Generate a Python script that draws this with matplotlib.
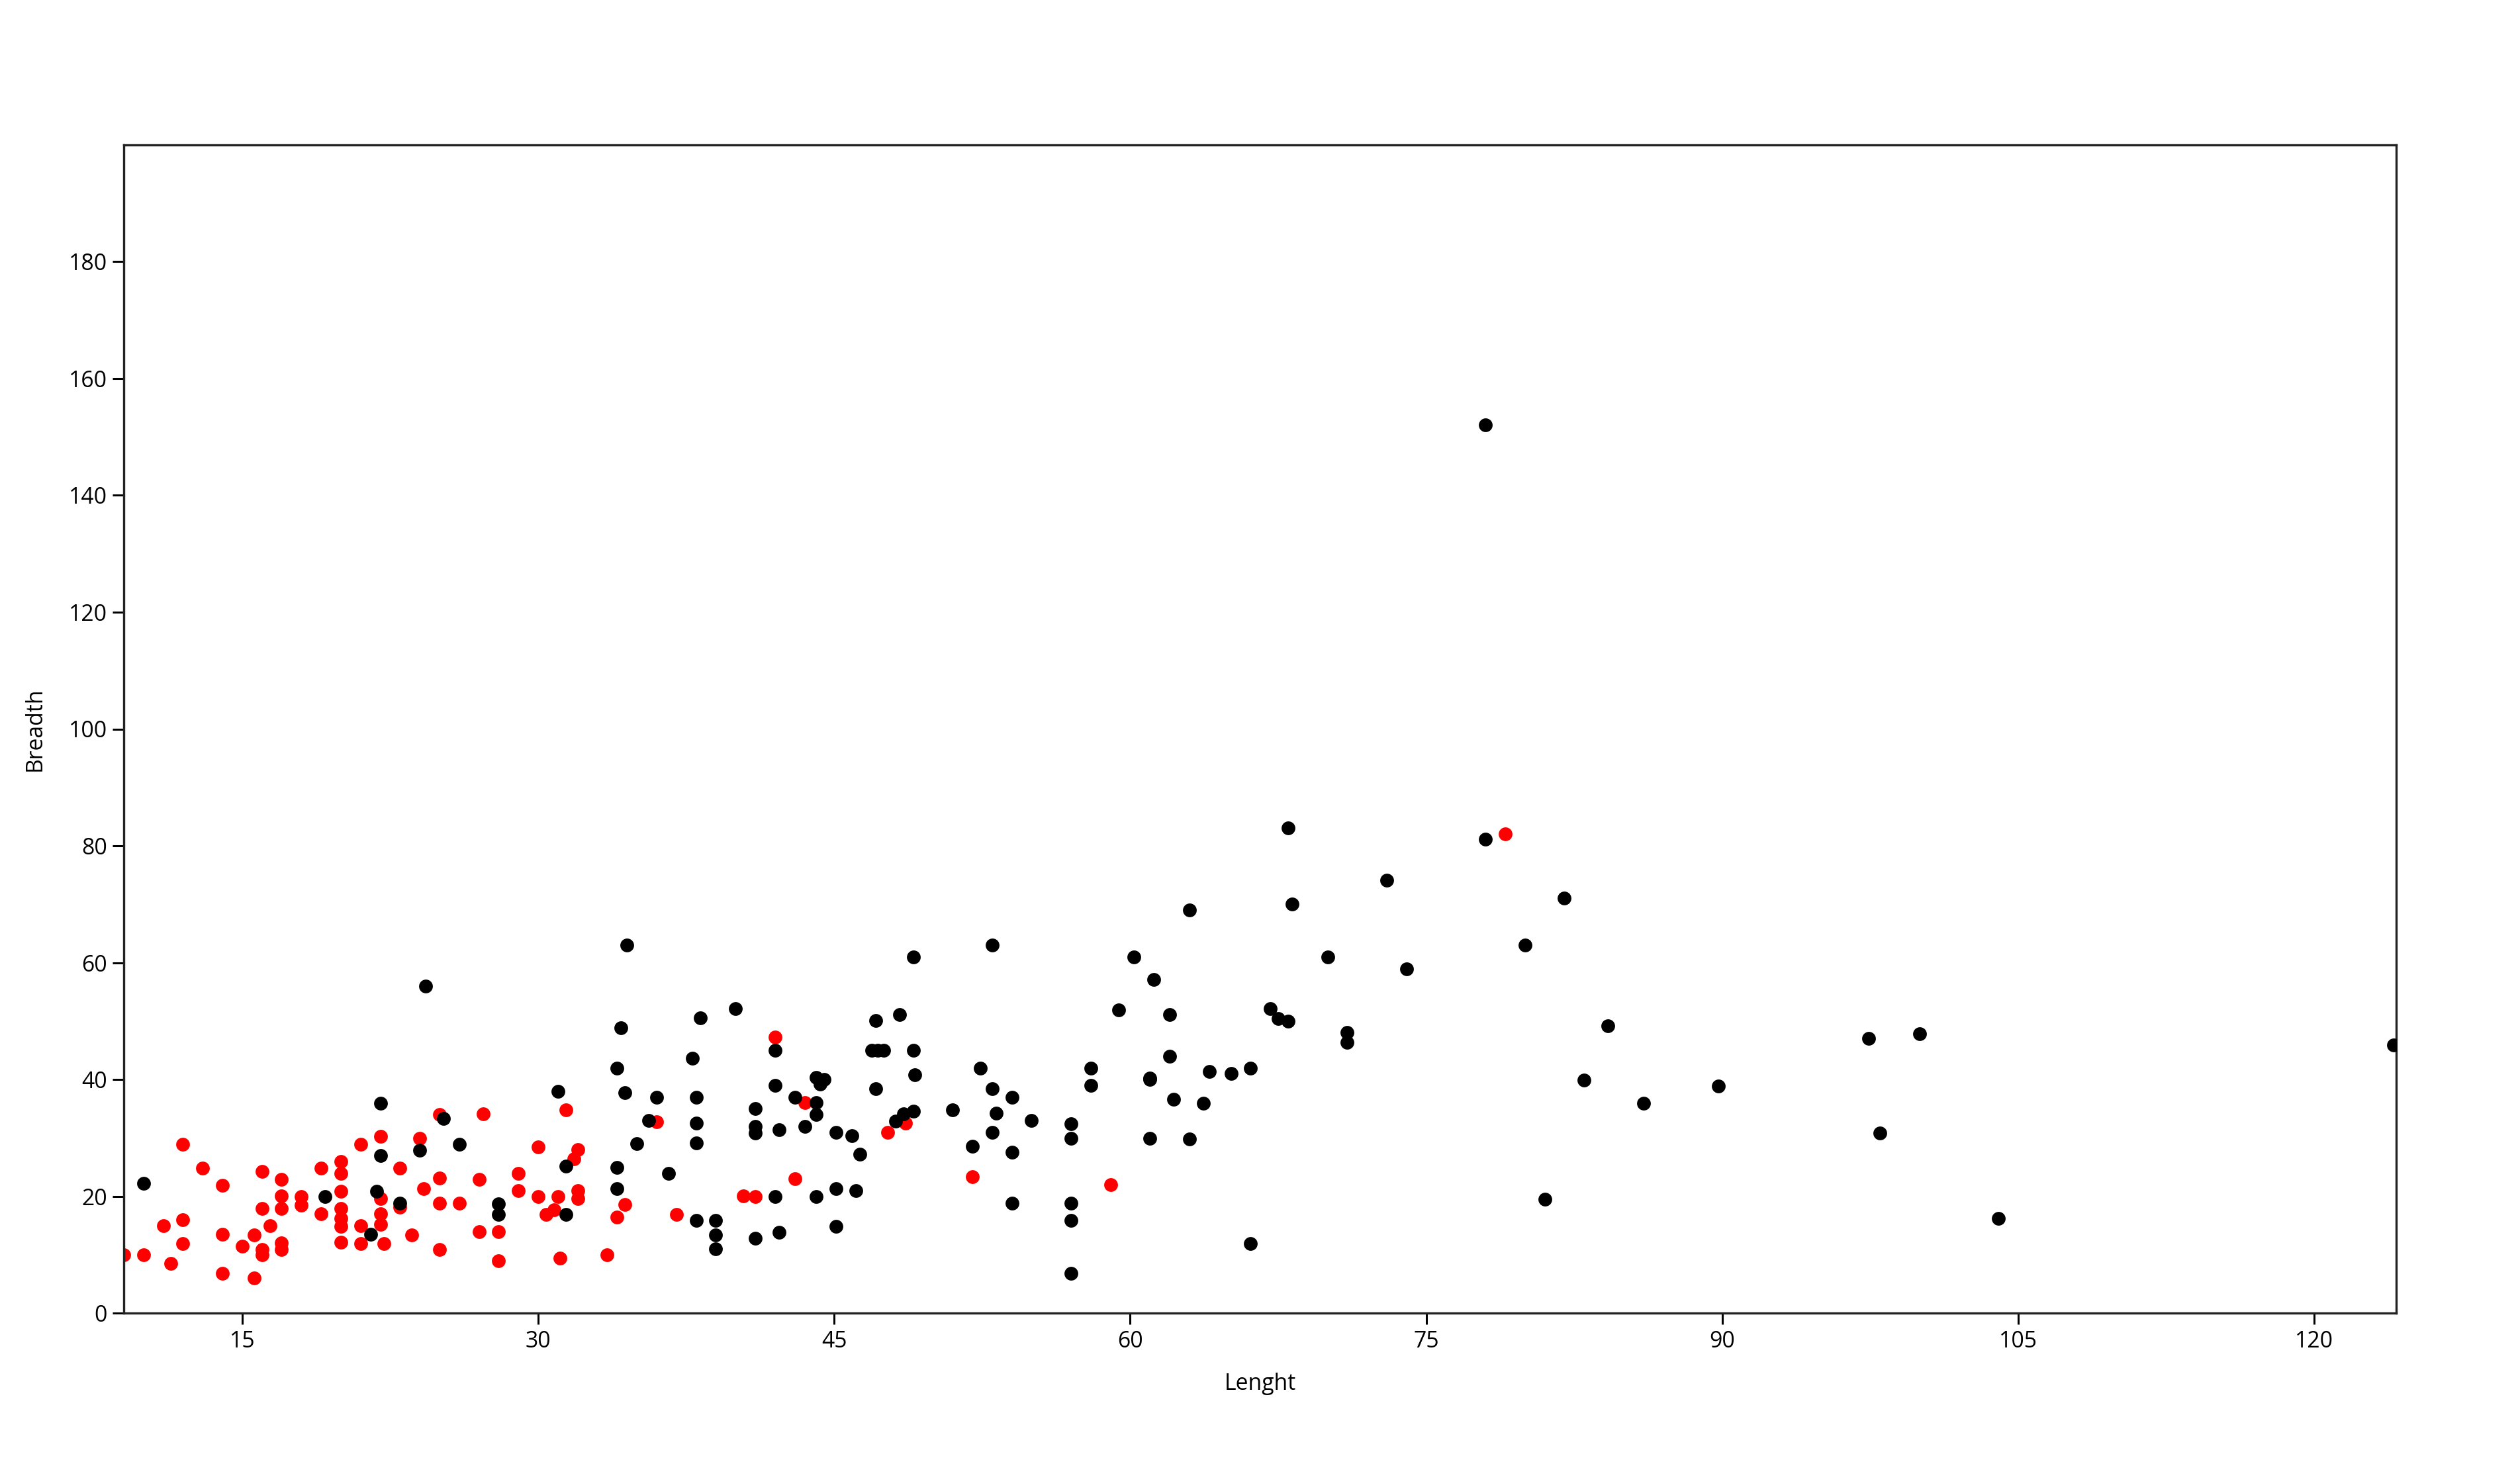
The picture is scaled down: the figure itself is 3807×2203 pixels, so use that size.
import numpy as np
import matplotlib
matplotlib.use("Agg")
import matplotlib.pyplot as plt

plt.rcParams['font.family'] = ['Open Sans', 'DejaVu Sans']

# red group (length, breadth)
red_length = [9.0, 10.0, 11.0, 11.4, 12.0, 12.0, 12.0, 13.0, 14.0, 14.0, 14.0, 15.0, 15.6, 15.6,
              16.0, 16.0, 16.0, 16.0, 16.4, 17.0, 17.0, 17.0, 17.0, 17.0, 18.0, 18.0, 19.0, 19.0,
              20.0, 20.0, 20.0, 20.0, 20.0, 20.0, 20.0, 21.0, 21.0, 21.0, 22.0, 22.0, 22.0, 22.0,
              22.2, 23.0, 23.0, 23.6, 24.0, 24.2, 25.0, 25.0, 25.0, 25.0, 26.0, 27.2, 27.0, 27.0,
              28.0, 28.0, 29.0, 29.0, 30.0, 30.0, 30.4, 30.8, 31.4, 31.0, 31.8, 32.0, 32.0, 32.0,
              31.1, 33.5, 34.4, 34.0, 36.0, 37.0, 40.4, 41.0, 42.0, 43.0, 43.5, 47.7, 48.6, 52.0,
              59.0, 79.0]
red_breadth = [10.0, 10.0, 15.0, 8.5, 28.9, 16.0, 12.0, 24.9, 21.9, 13.5, 6.9, 11.5, 13.4, 6.0,
               24.3, 17.9, 10.9, 10.0, 15.0, 22.9, 20.1, 17.9, 12.1, 10.9, 20.0, 18.5, 24.9, 17.0,
               26.0, 24.0, 20.9, 17.9, 16.2, 14.9, 12.2, 28.9, 15.0, 12.0, 30.3, 19.6, 17.0, 15.2,
               12.0, 24.9, 18.2, 13.4, 30.0, 21.3, 34.0, 23.1, 18.9, 10.9, 18.9, 34.1, 22.9, 14.0,
               14.0, 9.0, 24.0, 21.0, 28.5, 20.0, 16.9, 17.7, 34.8, 20.0, 26.4, 28.0, 21.0, 19.7,
               9.4, 10.0, 18.6, 16.5, 32.8, 16.9, 20.1, 20.0, 47.3, 23.0, 36.1, 31.0, 32.5, 23.4,
               22.0, 82.1]

# black group
black_length = [10.0, 19.2, 21.5, 22.0, 22.0, 21.8, 23.0, 24.0, 25.2, 26.0, 28.0, 28.0, 24.3,
                31.0, 31.4, 31.4, 34.0, 34.2, 34.4, 34.0, 34.0, 34.5, 35.0, 35.6, 36.0, 36.6,
                37.8, 38.0, 38.0, 38.0, 38.0, 38.2, 39.0, 39.0, 39.0, 40.0, 41.0, 41.0, 41.0,
                41.0, 42.0, 42.0, 42.0, 42.2, 42.2, 43.0, 43.5, 44.1, 44.5, 44.3, 44.1, 44.1,
                44.1, 45.1, 45.1, 45.1, 45.9, 46.1, 46.3, 47.1, 47.1, 46.9, 47.2, 47.5, 48.3,
                48.1, 48.5, 49.0, 49.0, 49.1, 49.0, 51.0, 52.4, 53.0, 54.0, 53.2, 55.0, 53.0,
                52.0, 54.0, 54.0, 53.0, 57.0, 57.0, 57.0, 57.0, 57.0, 58.0, 58.0, 59.4, 60.2,
                61.2, 62.0, 62.0, 61.0, 61.0, 62.2, 61.0, 63.0, 63.7, 64.0, 65.1, 66.1, 66.1,
                63.0, 67.1, 67.5, 68.0, 68.0, 68.2, 70.0, 71.0, 71.0, 73.0, 74.0, 78.0, 78.0,
                80.0, 82.0, 84.2, 83.0, 86.0, 81.0, 89.8, 97.4, 100.0, 98.0, 104.0, 124.0]
black_breadth = [22.3, 20.0, 13.5, 36.0, 27.0, 20.9, 18.9, 27.9, 33.3, 28.9, 18.7, 16.9, 56.0,
                 38.0, 25.2, 16.9, 42.0, 48.9, 37.8, 25.0, 21.3, 63.0, 29.0, 33.0, 37.0, 24.0,
                 43.6, 37.0, 32.5, 29.2, 15.9, 50.6, 15.9, 13.4, 11.0, 52.1, 35.1, 32.0, 30.9,
                 12.9, 45.0, 39.0, 20.0, 31.4, 13.9, 37.0, 32.0, 40.4, 40.0, 39.2, 36.1, 34.0,
                 20.0, 31.0, 21.3, 14.9, 30.4, 21.0, 27.2, 50.1, 38.4, 45.0, 45.0, 45.0, 51.1,
                 32.9, 34.1, 61.0, 45.0, 40.8, 34.6, 34.8, 42.0, 38.4, 37.0, 34.2, 33.0, 31.0,
                 28.6, 27.6, 18.9, 63.0, 32.4, 30.0, 18.9, 15.9, 6.9, 42.0, 39.0, 51.9, 61.0,
                 57.1, 51.1, 44.0, 40.3, 40.0, 36.6, 30.0, 29.8, 35.9, 41.4, 41.0, 42.0, 12.0,
                 69.0, 52.1, 50.5, 50.0, 83.1, 70.1, 61.0, 48.1, 46.4, 74.1, 59.0, 81.1, 152.0,
                 63.0, 71.1, 49.2, 39.9, 35.9, 19.5, 38.9, 47.1, 47.9, 30.9, 16.3, 45.9]

x_ticks = [15, 30, 45, 60, 75, 90, 105, 120]
y_ticks = [0, 20, 40, 60, 80, 100, 120, 140, 160, 180]

fig = plt.figure(figsize=(3807 / 243, 2203 / 243), dpi=243)
ax = fig.add_axes([0.0491, 0.0992, 0.9018, 0.8016])

ax.scatter(red_length, red_breadth, s=38, color='#ff0000', linewidths=0, zorder=2)
ax.scatter(black_length, black_breadth, s=38, color='black', linewidths=0, zorder=3)

ax.set_xlim(9, 124.15)
ax.set_ylim(0, 200)
ax.set_xticks(x_ticks)
ax.set_yticks(y_ticks)
ax.tick_params(axis='both', labelsize=10, length=5, width=0.9, pad=2.5, color='black')

for sp in ax.spines.values():
    sp.set_linewidth(1.0)
    sp.set_color('#222222')

ax.set_xlabel('Lenght', fontsize=10, labelpad=9)
ax.set_ylabel('Breadth', fontsize=10, labelpad=10)

fig.savefig('out.png', dpi=243, facecolor='white')
